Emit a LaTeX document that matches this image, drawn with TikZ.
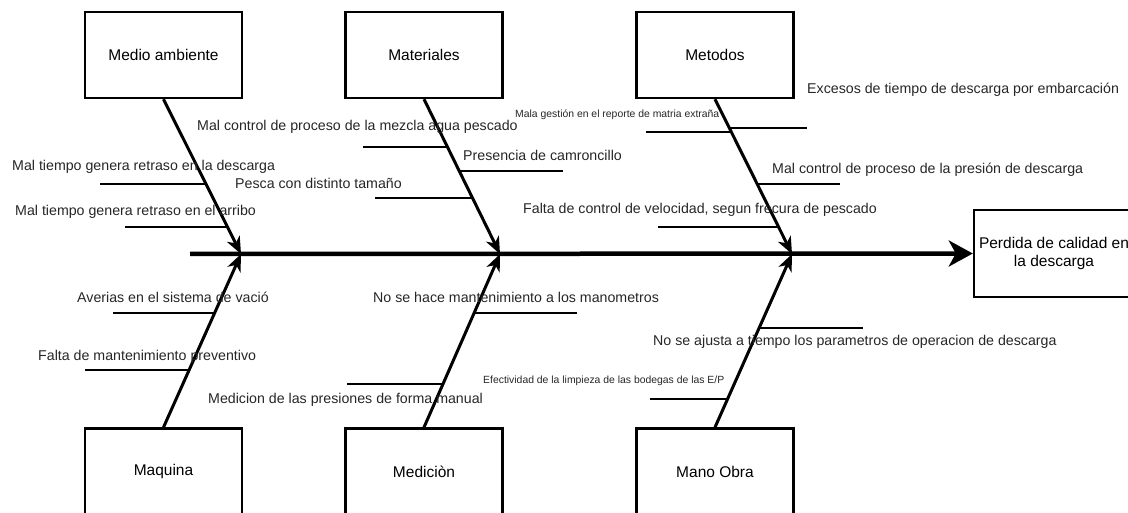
\documentclass[tikz,border=0pt]{standalone}
\usepackage{fontspec}
\setmainfont{Liberation Sans}
\usetikzlibrary{arrows.meta,calc}

\begin{document}
\begin{tikzpicture}[x=1pt,y=-1pt,
  cat/.style={draw, line width=2.4pt, minimum width=157pt, minimum height=86pt,
              inner sep=0pt, font=\fontsize{15.5}{18}\selectfont},
  bone/.style={line width=3pt, -{Stealth[length=17pt,width=14pt,inset=5pt]}},
  spine/.style={line width=4.5pt, -{Stealth[length=24pt,width=26pt,inset=7pt]}},
  twig/.style={line width=2pt},
  lbl/.style={anchor=west, inner sep=0pt, text=black!85, font=\fontsize{14.2}{16}\selectfont},
  tinylbl/.style={anchor=west, inner sep=0pt, text=black!85, font=\fontsize{10.4}{12}\selectfont},
]
\useasboundingbox (0,0) rectangle (1128,513);
\clip (0,0) rectangle (1128,513);

% category boxes
\node[cat] (ma)  at (163.5,55)   {Medio ambiente};
\node[cat] (mat) at (424,55)     {Materiales};
\node[cat] (met) at (715,55)     {Metodos};
\node[cat] (maq) at (163.5,471.5) {Maquina};
\node[cat] (med) at (424,471.5)  {Mediciòn};
\node[cat] (mo)  at (715,471.5)  {Mano Obra};

% effect box
\node[draw, line width=2.4pt, minimum width=160pt, minimum height=87pt, inner sep=0pt,
      align=center, font=\fontsize{15.5}{18}\selectfont] (eff) at (1054,253.5)
      {Perdida de calidad en\\la descarga};

% spine
\coordinate (tail) at (190,254);
\coordinate (j1) at (241,254);
\coordinate (j2) at (500,254);
\coordinate (j3) at (792,254);
\draw[spine] (tail) -- (eff.west);

% main bones
\draw[bone] (ma.south)  -- (j1);
\draw[bone] (mat.south) -- (j2);
\draw[bone] (met.south) -- (j3);
\draw[bone] (maq.north) -- (j1);
\draw[bone] (med.north) -- (j2);
\draw[bone] (mo.north)  -- (j3);

% points on the bones where the causes attach
\coordinate (a1) at ($(ma.south)!0.545!(j1)$);
\coordinate (a2) at ($(ma.south)!0.827!(j1)$);
\coordinate (b1) at ($(mat.south)!0.308!(j2)$);
\coordinate (b2) at ($(mat.south)!0.4615!(j2)$);
\coordinate (b3) at ($(mat.south)!0.641!(j2)$);
\coordinate (c1) at ($(met.south)!0.2115!(j3)$);
\coordinate (c2) at ($(met.south)!0.186!(j3)$);
\coordinate (c3) at ($(met.south)!0.545!(j3)$);
\coordinate (c4) at ($(met.south)!0.827!(j3)$);
\coordinate (d1) at ($(maq.north)!0.661!(j1)$);
\coordinate (d2) at ($(maq.north)!0.328!(j1)$);
\coordinate (e1) at ($(med.north)!0.661!(j2)$);
\coordinate (e2) at ($(med.north)!0.247!(j2)$);
\coordinate (f1) at ($(mo.north)!0.575!(j3)$);
\coordinate (f2) at ($(mo.north)!0.161!(j3)$);

% cause lines
\draw[twig] (a1) -- (a1 -| 100,0);
\draw[twig] (a2) -- (a2 -| 125,0);
\draw[twig] (b1) -- (b1 -| 363,0);
\draw[twig] (b2) -- (b2 -| 563,0);
\draw[twig] (b3) -- (b3 -| 375,0);
\draw[twig] (c1) -- (c1 -| 646,0);
\draw[twig] (c2) -- (c2 -| 807,0);
\draw[twig] (c3) -- (c3 -| 840,0);
\draw[twig] (c4) -- (c4 -| 658,0);
\draw[twig] (d1) -- (d1 -| 113,0);
\draw[twig] (d2) -- (d2 -| 85,0);
\draw[twig] (e1) -- (e1 -| 577,0);
\draw[twig] (e2) -- (e2 -| 347,0);
\draw[twig] (f1) -- (f1 -| 863,0);
\draw[twig] (f2) -- (f2 -| 650,0);

% cause texts
\node[lbl] (ta1) at (12,167)  {Mal tiempo genera retraso en la descarga};
\node[lbl] (ta2) at (15,212)  {Mal tiempo genera retraso en el arribo};
\node[lbl] (tb1) at (197,127) {Mal control de proceso de la mezcla agua pescado};
\node[lbl] (tb2) at (463,155) {Presencia de camroncillo};
\node[lbl] (tb3) at (235,183) {Pesca con distinto tamaño};
\node[tinylbl] (tc1) at (515,115) {Mala gestión en el reporte de matria extraña};
\node[lbl] (tc2) at (807,90)  {Excesos de tiempo de descarga por embarcación};
\node[lbl] (tc3) at (772,170) {Mal control de proceso de la presión de descarga};
\node[lbl] (tc4) at (523,210) {Falta de control de velocidad, segun frecura de pescado};
\node[lbl] (td1) at (77,297)  {Averias en el sistema de vació};
\node[lbl] (td2) at (38,357)  {Falta de mantenimiento preventivo};
\node[lbl] (te1) at (373,297) {No se hace mantenimiento a los manometros};
\node[lbl] (te2) at (208,400) {Medicion de las presiones de forma manual};
\node[lbl] (tf1) at (653,342) {No se ajusta a tiempo los parametros de operacion de descarga};
\node[tinylbl] (tf2) at (483,381) {Efectividad de la limpieza de las bodegas de las E/P};
\end{tikzpicture}
\end{document}
